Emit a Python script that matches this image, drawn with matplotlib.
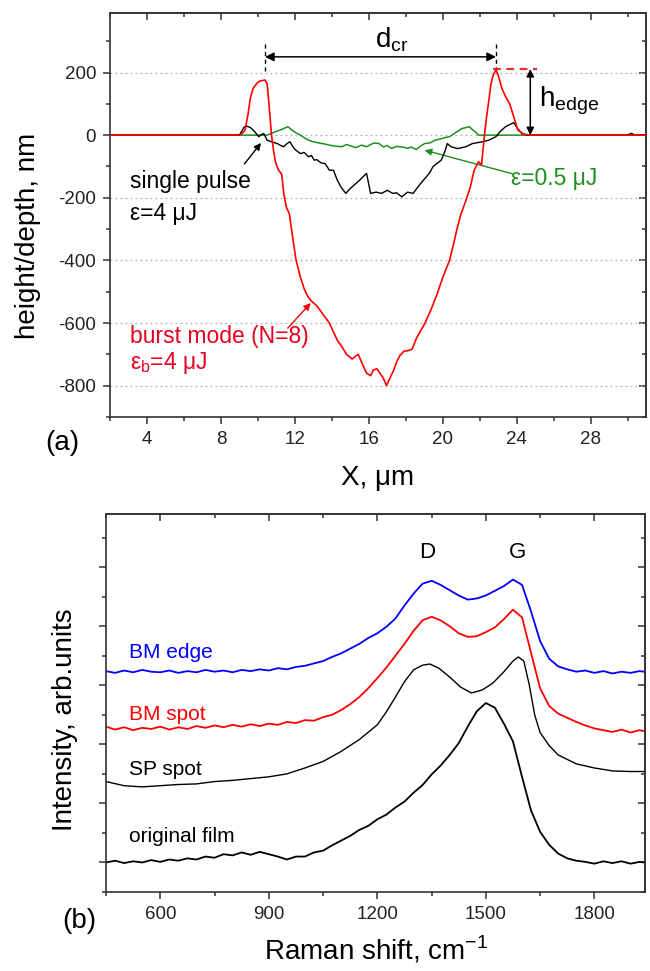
import matplotlib
matplotlib.use("Agg")
import matplotlib.pyplot as plt
from matplotlib.ticker import MultipleLocator, NullFormatter

plt.rcParams['font.family'] = ['Liberation Sans', 'DejaVu Sans']
plt.rcParams['axes.unicode_minus'] = False

# ---------------- panel (a): crater profiles ----------------
burst_x = [2, 8.9, 9.1, 9.3, 9.45, 9.6, 9.75, 9.9, 10.05, 10.2, 10.39, 10.5, 10.6, 10.73, 10.85,
           10.95, 11.1, 11.29, 11.4, 11.55, 11.7, 11.85, 12.07, 12.3, 12.5, 12.7, 12.9, 13.19,
           13.5, 13.87, 14.1, 14.31, 14.54, 14.8, 15.1, 15.3, 15.43, 15.65, 15.88, 16.1, 16.25,
           16.44, 16.6, 16.78, 16.96, 17.15, 17.34, 17.5, 17.68, 17.9, 18.13, 18.35, 18.57, 18.8,
           19.02, 19.35, 19.7, 20.0, 20.37, 20.6, 20.8, 21.0, 21.26, 21.5, 21.7, 21.94, 22.1,
           22.27, 22.4, 22.5, 22.6, 22.72, 22.88, 23.0, 23.2, 23.4, 23.62, 23.84, 24.07, 24.4,
           25, 31]
burst_y = [0, 0, 3, 15, 60, 120, 150, 162, 171, 174, 176, 165, 100, 5, -50,
           -85, -110, -125, -186, -232, -250, -314, -400, -453, -490, -515, -530, -545,
           -570, -600, -630, -656, -675, -700, -715, -705, -700, -730, -760, -768, -750,
           -746, -760, -775, -800, -775, -752, -725, -704, -690, -688, -683, -650, -625,
           -603, -560, -507, -455, -400, -345, -293, -250, -208, -165, -112, -85, -95,
           5, 70, 112, 160, 190, 208, 192, 150, 123, 101, 59, 16, 2,
           0, 0]

single_x = [2, 9.0, 9.15, 9.27, 9.45, 9.6, 9.83, 10.05, 10.2, 10.32, 10.5, 10.73, 11.06, 11.2,
            11.4, 11.55, 11.73, 11.96, 12.1, 12.3, 12.5, 12.74, 12.9, 13.05, 13.19, 13.4, 13.64,
            13.87, 14.09, 14.3, 14.5, 14.76, 15.0, 15.2, 15.5, 15.88, 16.1, 16.4, 16.7, 17.0,
            17.3, 17.5, 17.79, 18.1, 18.4, 18.6, 18.8, 19.1, 19.3, 19.47, 19.7, 19.92, 20.1,
            20.25, 20.45, 20.8, 21.26, 21.6, 22.16, 22.5, 22.88, 23.1, 23.4, 23.84, 24.05, 24.29,
            24.6, 30.0, 30.2, 30.4, 31]
single_y = [0, 0, 15, 27, 28, 24, 11, -5, 2, 5, -16, -21, -27, -32,
            -37, -28, -21, -43, -50, -59, -55, -69, -65, -80, -78, -88, -91,
            -112, -112, -144, -166, -186, -170, -160, -144, -122, -186, -182, -186, -176,
            -186, -184, -197, -182, -186, -170, -155, -134, -120, -101, -90, -80, -55,
            -27, -37, -43, -37, -27, -21, -16, -5, 11, 27, 40, 21, 5,
            0, 0, 6, 0, 0]

low_x = [2, 10.5, 10.95, 11.2, 11.4, 11.62, 11.85, 12.05, 12.3, 12.5, 12.74, 13.0, 13.3, 13.6,
         13.87, 14.2, 14.54, 14.8, 15.0, 15.3, 15.6, 15.88, 16.1, 16.3, 16.56, 16.8, 17.0, 17.23,
         17.5, 17.8, 18.1, 18.3, 18.57, 18.8, 19.02, 19.3, 19.6, 19.9, 20.1, 20.37, 20.7, 21.04,
         21.25, 21.44, 21.6, 21.75, 21.94, 30.3]
low_y = [0, 0, 11, 16, 21, 27, 16, 8, 0, -8, -16, -21, -25, -28,
         -32, -35, -37, -30, -34, -40, -32, -37, -30, -25, -27, -38, -33, -43,
         -36, -38, -42, -38, -46, -35, -27, -25, -16, -12, -8, -5, 8, 21,
         24, 27, 18, 11, 0, 0]

# ---------------- panel (b): Raman spectra ----------------
raman_x = [450, 475, 500, 525, 550, 575, 600, 625, 650, 675, 700, 725, 750, 775, 800, 825, 850,
           875, 900, 925, 950, 975, 1000, 1025, 1050, 1075, 1100, 1125, 1150, 1175, 1200, 1225,
           1250, 1275, 1300, 1325, 1350, 1375, 1400, 1425, 1450, 1475, 1500, 1525, 1550, 1575,
           1600, 1625, 1650, 1675, 1700, 1725, 1750, 1775, 1800, 1825, 1850, 1875, 1900, 1925,
           1950]
film_y = [1.00, 1.03, 0.99, 1.02, 1.00, 1.04, 1.01, 1.05, 1.03, 1.07, 1.05, 1.10, 1.08, 1.14,
          1.12, 1.17, 1.13, 1.18, 1.14, 1.10, 1.05, 1.10, 1.10, 1.17, 1.20, 1.29, 1.37, 1.45,
          1.55, 1.62, 1.73, 1.81, 1.93, 2.03, 2.18, 2.31, 2.49, 2.64, 2.82, 3.02, 3.30, 3.56,
          3.70, 3.62, 3.35, 3.05, 2.45, 1.88, 1.52, 1.30, 1.15, 1.07, 1.03, 1.01, 0.98, 1.02,
          0.99, 1.02, 0.98, 1.01, 0.99]
bm_spot_y = [3.30, 3.25, 3.29, 3.24, 3.28, 3.26, 3.30, 3.25, 3.29, 3.26, 3.31, 3.28, 3.32, 3.29,
             3.33, 3.30, 3.34, 3.31, 3.35, 3.33, 3.38, 3.36, 3.41, 3.40, 3.46, 3.50, 3.58, 3.68,
             3.80, 3.95, 4.12, 4.30, 4.50, 4.70, 4.92, 5.10, 5.16, 5.10, 5.00, 4.88, 4.82, 4.83,
             4.90, 4.98, 5.12, 5.28, 5.15, 4.55, 3.95, 3.65, 3.52, 3.45, 3.38, 3.32, 3.27, 3.24,
             3.21, 3.25, 3.20, 3.24, 3.21]
bm_edge_y = [4.24, 4.21, 4.25, 4.22, 4.26, 4.23, 4.22, 4.25, 4.21, 4.24, 4.22, 4.26, 4.23, 4.25,
             4.22, 4.26, 4.24, 4.27, 4.25, 4.29, 4.27, 4.31, 4.33, 4.37, 4.41, 4.48, 4.54, 4.62,
             4.70, 4.80, 4.88, 4.99, 5.13, 5.35, 5.55, 5.72, 5.77, 5.70, 5.61, 5.52, 5.45, 5.47,
             5.52, 5.60, 5.68, 5.79, 5.70, 5.25, 4.75, 4.45, 4.32, 4.27, 4.23, 4.25, 4.21, 4.24,
             4.20, 4.23, 4.21, 4.24, 4.22]

sp_x = [450, 500, 550, 600, 650, 700, 750, 800, 850, 900, 950, 1000, 1050, 1100, 1150, 1200,
        1225, 1250, 1275, 1300, 1325, 1345, 1370, 1400, 1430, 1460, 1490, 1520, 1550, 1575,
        1590, 1605, 1620, 1635, 1650, 1675, 1700, 1750, 1800, 1850, 1900, 1950]
sp_y = [2.37, 2.30, 2.28, 2.30, 2.32, 2.33, 2.37, 2.39, 2.42, 2.45, 2.50, 2.60, 2.71, 2.88,
        3.08, 3.33, 3.55, 3.80, 4.06, 4.26, 4.34, 4.36, 4.29, 4.14, 3.97, 3.87, 3.92, 4.04,
        4.23, 4.41, 4.48, 4.41, 4.01, 3.50, 3.20, 2.98, 2.82, 2.67, 2.60, 2.55, 2.54, 2.54]

RED = '#ff0000'
GREEN = '#1f8f1f'
BLUE = '#0000ff'
SPINE = '#333333'

fig = plt.figure(figsize=(6.5, 9.71), dpi=100)
W, H = 650.0, 971.0


def px_axes(l, t, r, b):
    return fig.add_axes([l / W, 1 - b / H, (r - l) / W, (b - t) / H])


def style(ax, xmaj, xmin, ymaj, ymin, ylabels=True):
    for s in ax.spines.values():
        s.set_linewidth(1.2)
        s.set_color(SPINE)
    ax.xaxis.set_major_locator(MultipleLocator(xmaj))
    ax.xaxis.set_minor_locator(MultipleLocator(xmin))
    ax.yaxis.set_major_locator(MultipleLocator(ymaj))
    ax.yaxis.set_minor_locator(MultipleLocator(ymin))
    ax.tick_params(which='both', direction='out', color=SPINE, width=1.1,
                   labelsize=13.5, labelcolor='#222222', pad=5)
    ax.tick_params(which='major', length=5)
    ax.tick_params(which='minor', length=3)
    if not ylabels:
        ax.yaxis.set_major_formatter(NullFormatter())
    sx = ax.secondary_xaxis('top')
    sx.xaxis.set_major_locator(MultipleLocator(xmaj))
    sx.xaxis.set_minor_locator(MultipleLocator(xmin))
    sx.tick_params(which='both', direction='in', color=SPINE, width=1.1, labeltop=False)
    sx.tick_params(which='major', length=5)
    sx.tick_params(which='minor', length=3)
    sx.spines['top'].set_linewidth(1.2)
    sx.spines['top'].set_color(SPINE)
    sy = ax.secondary_yaxis('right')
    sy.yaxis.set_major_locator(MultipleLocator(ymaj))
    sy.yaxis.set_minor_locator(MultipleLocator(ymin))
    sy.tick_params(which='both', direction='in', color=SPINE, width=1.1, labelright=False)
    sy.tick_params(which='major', length=5)
    sy.tick_params(which='minor', length=3)
    sy.spines['right'].set_linewidth(1.2)
    sy.spines['right'].set_color(SPINE)


# ----- top axes -----
ax1 = px_axes(110, 13, 646, 417)
ax1.set_xlim(2, 31)
ax1.set_ylim(-900, 390)
style(ax1, 4, 2, 200, 100)
ax1.yaxis.grid(True, which='major', linestyle=(0, (1.5, 2.5)), color='#b0b0b0', lw=0.9)
ax1.set_axisbelow(True)

ax1.plot(low_x, low_y, color=GREEN, lw=1.1, zorder=3)
ax1.plot(single_x, single_y, color='black', lw=1.0, zorder=4)
ax1.plot(burst_x, burst_y, color=RED, lw=1.2, zorder=5)

# d_cr annotation
ax1.annotate('', xy=(10.39, 250), xytext=(22.88, 250),
             arrowprops=dict(arrowstyle='<|-|>', color='black', lw=1.1,
                             mutation_scale=13, shrinkA=0, shrinkB=0))
for xv in (10.39, 22.88):
    ax1.plot([xv, xv], [205, 290], color='black', lw=1.0, linestyle=(0, (3, 2.5)))
ax1.text(17.25, 305, r'd$_{\mathregular{cr}}$', fontsize=20, ha='center', va='center')

# h_edge annotation
ax1.plot([22.7, 25.1], [211, 211], color='#e03030', lw=1.6, linestyle=(0, (3.5, 2.5)))
ax1.annotate('', xy=(24.74, 211), xytext=(24.74, 0),
             arrowprops=dict(arrowstyle='<|-|>', color='black', lw=1.1,
                             mutation_scale=11, shrinkA=0, shrinkB=0))
ax1.text(25.2, 110, r'h$_{\mathregular{edge}}$', fontsize=20, ha='left', va='center')

# curve labels
ax1.text(3.1, -149, 'single pulse', fontsize=16.5, color='black', va='center')
ax1.text(3.1, -249, 'ε=4 μJ', fontsize=16.5, color='black', va='center')
ax1.annotate('', xy=(10.17, -25), xytext=(9.27, -92),
             arrowprops=dict(arrowstyle='-|>', color='black', lw=1.0,
                             mutation_scale=10, shrinkA=0, shrinkB=0))
ax1.text(23.7, -138, 'ε=0.5 μJ', fontsize=16.5, color=GREEN, va='center')
ax1.annotate('', xy=(19.02, -48), xytext=(23.75, -123),
             arrowprops=dict(arrowstyle='-|>', color=GREEN, lw=1.0,
                             mutation_scale=10, shrinkA=0, shrinkB=0))
ax1.text(3.1, -643, 'burst mode (N=8)', fontsize=16.5, color='#e8001c', va='center')
ax1.text(3.1, -728, r'ε$_{\mathregular{b}}$=4 μJ', fontsize=16.5, color='#e8001c', va='center')
ax1.annotate('', xy=(12.86, -536), xytext=(11.62, -616),
             arrowprops=dict(arrowstyle='-|>', color=RED, lw=1.0,
                             mutation_scale=10, shrinkA=0, shrinkB=0))

ax1.set_xlabel('X, μm', fontsize=20)
ax1.xaxis.set_label_coords(0.5, (417 - 478) / 404)
ax1.xaxis.label.set_va('center')
ax1.set_ylabel('height/depth, nm', fontsize=20)
ax1.yaxis.set_label_coords((28 - 110) / 536, (417 - 236) / 404)
ax1.yaxis.label.set_va('center')
fig.text(62 / W, 1 - 443 / H, '(a)', fontsize=20, ha='center', va='center')

# ----- bottom axes -----
ax2 = px_axes(106, 514, 645, 892)
ax2.set_xlim(450, 1940)
ax2.set_ylim(0.5, 6.9)
style(ax2, 300, 150, 1, 0.5, ylabels=False)

ax2.plot(raman_x, film_y, color='black', lw=1.3)
ax2.plot(sp_x, sp_y, color='black', lw=1.0)
ax2.plot(raman_x, bm_spot_y, color=RED, lw=1.3)
ax2.plot(raman_x, bm_edge_y, color=BLUE, lw=1.3)

ax2.text(514, 4.55, 'BM edge', fontsize=15, color=BLUE, va='center')
ax2.text(514, 3.50, 'BM spot', fontsize=15, color=RED, va='center')
ax2.text(514, 2.57, 'SP spot', fontsize=15, color='black', va='center')
ax2.text(514, 1.44, 'original film', fontsize=15, color='black', va='center')
ax2.text(1338, 6.24, 'D', fontsize=16, ha='center', va='center')
ax2.text(1587, 6.24, 'G', fontsize=16, ha='center', va='center')

ax2.set_xlabel(r'Raman shift, cm$^{\mathregular{-1}}$', fontsize=20)
ax2.xaxis.set_label_coords(0.5, (892 - 950) / 378)
ax2.xaxis.label.set_va('center')
ax2.set_ylabel('Intensity, arb.units', fontsize=20)
ax2.yaxis.set_label_coords((65 - 106) / 539, (892 - 720) / 378)
ax2.yaxis.label.set_va('center')
fig.text(79 / W, 1 - 921 / H, '(b)', fontsize=20, ha='center', va='center')

fig.savefig('out.png', dpi=100)
